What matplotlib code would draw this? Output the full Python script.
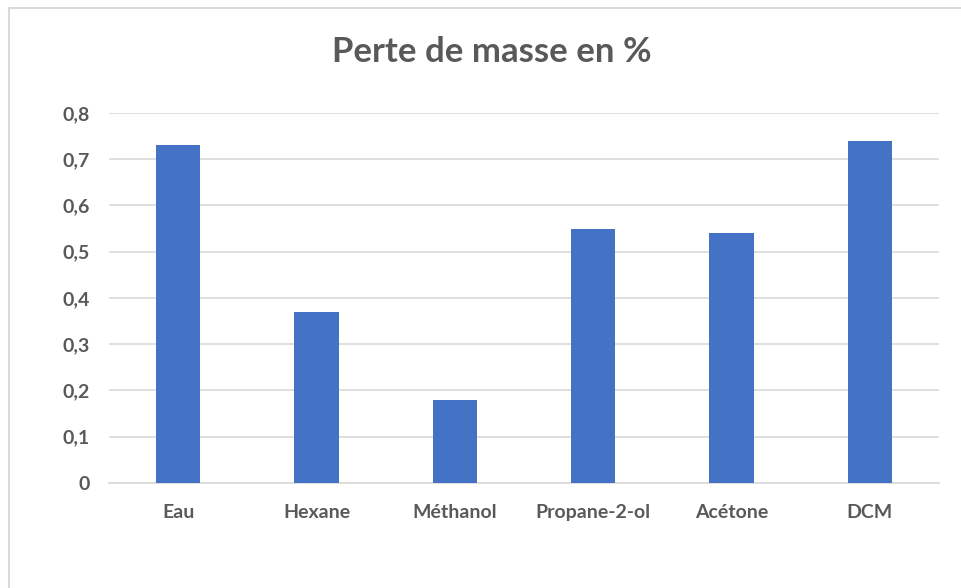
import numpy as np
import matplotlib.pyplot as plt
from matplotlib.patches import Rectangle
from matplotlib.ticker import FuncFormatter

solvants = ['Eau', 'Hexane', 'Méthanol', 'Propane-2-ol', 'Acétone', 'DCM']
perte = [0.73, 0.37, 0.18, 0.55, 0.54, 0.74]

plt.rcParams['font.family'] = ['Lato', 'DejaVu Sans']
gris = '#595959'

fig = plt.figure(figsize=(9.61, 5.88), dpi=100)
ax = fig.add_axes([0.1134, 0.1786, 0.8637, 0.6293])

x = np.arange(len(solvants))
ax.bar(x, perte, width=0.32, color='#4472C4', zorder=3)

ax.set_xlim(-0.5, len(solvants) - 0.5)
ax.set_ylim(0, 0.8)
ax.set_yticks(np.arange(0, 0.81, 0.1))
ax.yaxis.set_major_formatter(FuncFormatter(
    lambda v, p: '0' if abs(v) < 1e-9 else f'{v:.1f}'.replace('.', ',')))
ax.set_xticks(x)
ax.set_xticklabels(solvants)

ax.grid(axis='y', color='#D9D9D9', linewidth=1.2, zorder=0)
for s in ['top', 'right', 'left']:
    ax.spines[s].set_visible(False)
ax.spines['bottom'].set_color('#D9D9D9')
ax.spines['bottom'].set_linewidth(1.2)

ax.tick_params(axis='both', length=0, labelcolor=gris, labelsize=14)
ax.tick_params(axis='y', pad=14)
ax.tick_params(axis='x', pad=15)
for lab in ax.get_xticklabels() + ax.get_yticklabels():
    lab.set_fontweight('bold')

fig.text(0.512, 0.911, 'Perte de masse en %', ha='center', va='center',
         fontsize=25, fontweight='bold', color=gris)

# cadre du graphique
fig.patches.append(Rectangle((9 / 961, -0.1), 1.2, 1.1 - 8 / 588,
                             transform=fig.transFigure, fill=False,
                             edgecolor='#D9D9D9', linewidth=1.5))

fig.savefig('out.png', dpi=100)
